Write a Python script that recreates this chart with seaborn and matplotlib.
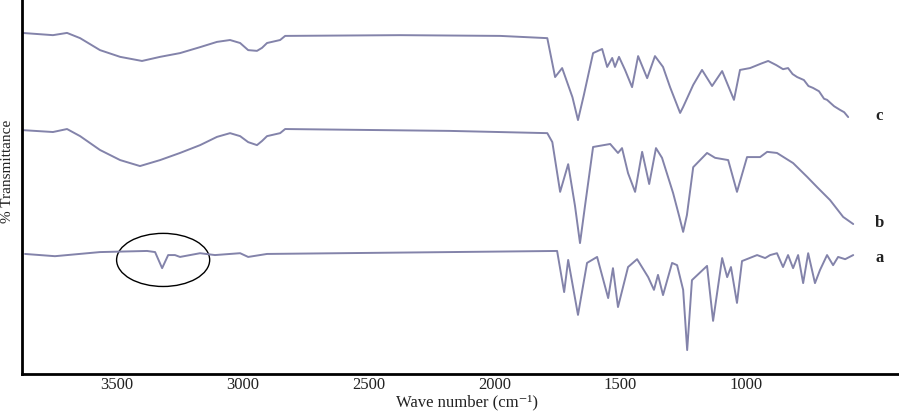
import matplotlib
matplotlib.use("Agg")
import matplotlib.pyplot as plt
from matplotlib.patches import Ellipse
import seaborn as sns
import pandas as pd

# FTIR spectra (traces are offset vertically)
wn_c = [3878, 3755, 3699, 3647, 3568, 3488, 3401, 3329, 3250, 3170, 3103, 3051, 3011, 2979,
        2944, 2924, 2904, 2852, 2832, 2375, 1977, 1790, 1759, 1731, 1690, 1668, 1645, 1608,
        1572, 1552, 1532, 1521, 1505, 1481, 1453, 1429, 1393, 1362, 1330, 1302, 1262, 1250,
        1210, 1175, 1135, 1095, 1048, 1024, 984, 940, 912, 880, 853, 833, 815, 797, 770, 752,
        734, 710, 690, 678, 650, 626, 610, 594]
t_c = [91.2, 90.6, 91.2, 89.8, 86.6, 84.8, 83.7, 84.8, 85.8, 87.4, 88.8, 89.3, 88.5, 86.6,
       86.4, 87.2, 88.5, 89.3, 90.4, 90.6, 90.4, 89.8, 79.4, 81.8, 74.0, 67.9, 74.5, 85.8,
       86.9, 82.1, 84.5, 82.1, 84.8, 81.3, 76.7, 85.0, 79.1, 85.0, 82.1, 76.7, 69.8, 71.4,
       77.3, 81.3, 77.0, 81.0, 73.3, 81.3, 81.8, 83.0, 83.7, 82.6, 81.5, 81.8, 80.2, 79.4,
       78.6, 77.0, 76.5, 75.6, 73.6, 73.3, 71.6, 70.6, 70.0, 68.7]

wn_b = [3874, 3755, 3699, 3647, 3568, 3488, 3409, 3329, 3250, 3170, 3103, 3051, 3011, 2979,
        2944, 2924, 2904, 2852, 2832, 2177, 1790, 1770, 1739, 1707, 1680, 1660, 1640, 1608,
        1540, 1509, 1493, 1469, 1441, 1413, 1385, 1358, 1334, 1290, 1265, 1250, 1235, 1210,
        1155, 1123, 1071, 1036, 996, 944, 916, 877, 813, 757, 718, 666, 614, 574]
t_b = [65.2, 64.7, 65.5, 63.6, 59.9, 57.2, 55.6, 57.2, 59.1, 61.2, 63.4, 64.4, 63.6, 62.0,
       61.2, 62.3, 63.6, 64.4, 65.5, 65.0, 64.4, 62.0, 48.7, 56.1, 45.0, 35.0, 45.0, 60.7,
       61.5, 59.1, 60.4, 53.7, 48.7, 59.4, 50.8, 60.4, 57.8, 48.4, 42.0, 38.0, 42.5, 55.3,
       59.1, 57.8, 57.2, 48.7, 58.0, 58.0, 59.4, 59.1, 56.4, 52.7, 50.0, 46.5, 42.0, 40.1]

wn_a = [3866, 3747, 3568, 3381, 3349, 3321, 3297, 3270, 3250, 3170, 3111, 3011, 2979, 2904,
        2177, 1751, 1723, 1707, 1668, 1632, 1592, 1548, 1529, 1509, 1469, 1433, 1389, 1366,
        1350, 1330, 1294, 1274, 1250, 1234, 1215, 1155, 1131, 1095, 1075, 1060, 1036, 1016,
        956, 924, 904, 877, 853, 833, 813, 793, 773, 753, 726, 706, 678, 654, 634, 606, 574]
t_a = [32.1, 31.5, 32.6, 32.9, 32.6, 28.3, 31.8, 31.8, 31.3, 32.3, 31.8, 32.3, 31.3, 32.1,
       32.6, 32.9, 21.9, 30.5, 15.8, 29.7, 31.3, 20.3, 28.3, 17.9, 28.6, 30.7, 25.9, 22.5,
       26.5, 21.1, 29.7, 29.1, 22.5, 6.4, 25.1, 28.9, 14.2, 31.0, 25.9, 28.6, 19.0, 30.2,
       31.8, 31.0, 31.8, 32.3, 28.6, 31.8, 28.3, 31.8, 24.3, 32.3, 24.3, 27.8, 31.8, 29.1,
       31.3, 30.7, 31.8]

samples = ["a", "b", "c"]
label_y = [31.0, 40.4, 69.0]
xticks = [3500, 3000, 2500, 2000, 1500, 1000]

sns.set_theme(style="white")
plt.rcParams["font.family"] = ["Liberation Serif", "DejaVu Serif"]

fig = plt.figure(figsize=(8.99, 4.12), dpi=100)
ax = fig.add_axes([22 / 899, 38 / 412, 877 / 899, 374 / 412])

line_color = "#8383aa"
for name, wn, t in [("a", wn_a, t_a), ("b", wn_b, t_b), ("c", wn_c, t_c)]:
    df = pd.DataFrame({"wn": wn, "t": t})
    sns.lineplot(data=df, x="wn", y="t", ax=ax, color=line_color, lw=1.4,
                 estimator=None, sort=False)

for name, y in zip(samples, label_y):
    ax.text(471, y, name, fontsize=12, fontweight="bold", ha="center", va="center",
            color="#222222")

# circle around the N-H band of sample a
ax.add_patch(Ellipse((3317, 30.5), 370, 14.2, fill=False, ec="black", lw=1.0))

ax.set_xlim(3878, 392)
ax.set_ylim(0, 100)
ax.set_xticks(xticks)
ax.set_xticklabels([str(v) for v in xticks], fontsize=12, color="#222222")
ax.set_yticks([])
ax.tick_params(axis="x", length=0, pad=2)
sns.despine(ax=ax, top=True, right=True)
for s in ["left", "bottom"]:
    ax.spines[s].set_color("black")
    ax.spines[s].set_linewidth(2)

ax.set_xlabel("Wave number (cm\u207b\u00b9)", fontsize=12, color="#222222")
ax.xaxis.label.set_va("center")
ax.xaxis.set_label_coords(0.507, -0.077)
ax.set_ylabel("% Transmittance", fontsize=11, color="#222222")
ax.yaxis.label.set_va("center")
ax.yaxis.set_label_coords(-0.016, 0.543)

fig.savefig("out.png", dpi=100)
